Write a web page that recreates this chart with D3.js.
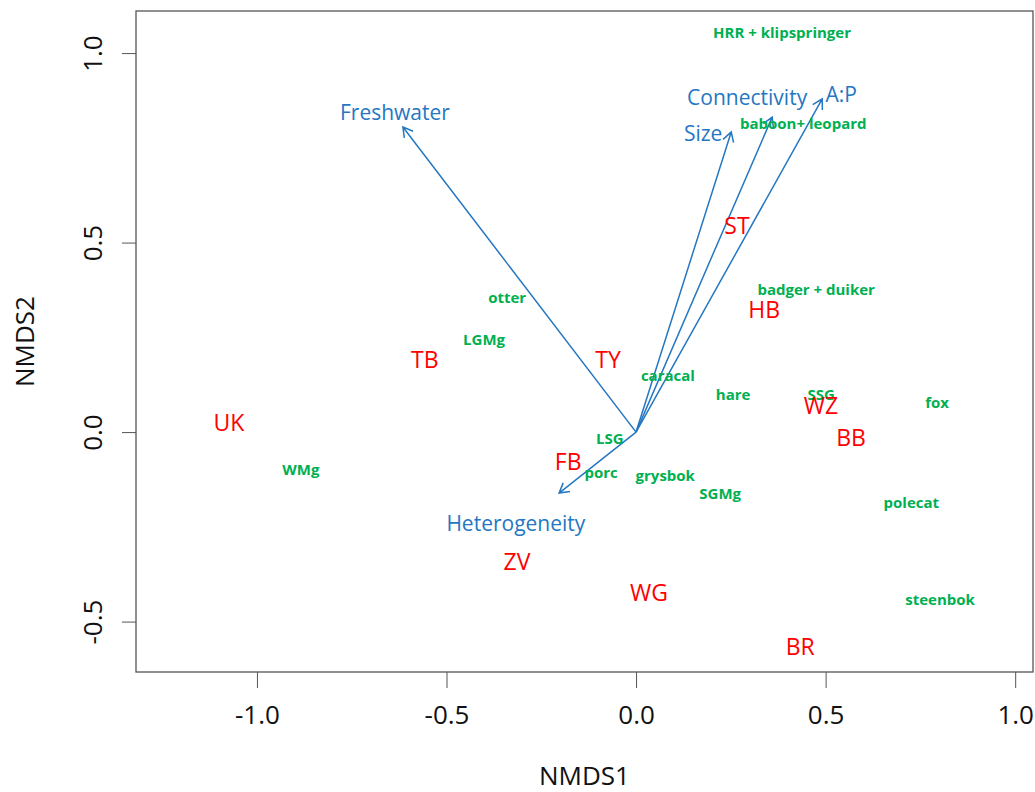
<!DOCTYPE html>
<html>
<head>
<meta charset="utf-8">
<script src="https://cdn.jsdelivr.net/npm/d3@7"></script>
<style>
  body { margin: 0; background: #fff; }
  text { font-family: "Open Sans", Lato, sans-serif; }
</style>
</head>
<body>
<svg width="1035" height="792"></svg>
<script>
// sites (red)
var siteNames = ["UK", "TB", "TY", "ST", "HB", "WZ", "BB", "FB", "ZV", "WG", "BR"];
var siteX = [-1.074, -0.557, -0.074, 0.266, 0.338, 0.488, 0.567, -0.179, -0.314, 0.034, 0.433];
var siteY = [0.026, 0.190, 0.190, 0.544, 0.322, 0.069, -0.016, -0.077, -0.343, -0.425, -0.565];

// species (green)
var speciesNames = ["HRR + klipspringer", "baboon+ leopard", "badger + duiker", "otter", "LGMg", "caracal",
    "hare", "SSG", "fox", "LSG", "porc", "grysbok", "SGMg", "WMg", "polecat", "steenbok"];
var speciesX = [0.385, 0.441, 0.475, -0.340, -0.401, 0.084, 0.256, 0.488, 0.794, -0.069, -0.092, 0.077, 0.222, -0.884, 0.726, 0.802];
var speciesY = [1.055, 0.815, 0.377, 0.354, 0.245, 0.150, 0.100, 0.098, 0.079, -0.018, -0.106, -0.116, -0.161, -0.098, -0.185, -0.441];

// environmental vectors (blue)
var envNames = ["Freshwater", "Size", "Connectivity", "A:P", "Heterogeneity"];
var envX = [-0.615, 0.251, 0.359, 0.491, -0.203];
var envY = [0.805, 0.792, 0.831, 0.879, -0.161];
var envLabelX = [-0.636, 0.177, 0.293, 0.541, -0.317];
var envLabelY = [0.844, 0.789, 0.884, 0.892, -0.240];

// axis ticks
var xTicks = [-1.0, -0.5, 0.0, 0.5, 1.0];
var yTicks = [-0.5, 0.0, 0.5, 1.0];

var svg = d3.select("svg"),
    width = +svg.attr("width"),
    height = +svg.attr("height");

var plotLeft = 136, plotRight = 1033, plotTop = 11, plotBottom = 672;

var x = d3.scaleLinear().domain([-1.319, 1.047]).range([plotLeft, plotRight]);
var y = d3.scaleLinear().domain([-0.633, 1.111]).range([plotBottom, plotTop]);

var red = "#ff0000", green = "#00b050", blue = "#2577c2", axisCol = "#555";

// R prints a plain hyphen, not the unicode minus
var fmt = function (d) { return d3.format(".1f")(d).replace("\u2212", "-"); };

// box
svg.append("rect")
    .attr("x", plotLeft).attr("y", plotTop)
    .attr("width", plotRight - plotLeft).attr("height", plotBottom - plotTop)
    .attr("fill", "none").attr("stroke", axisCol).attr("stroke-width", 1.3);

// x axis
var gx = svg.append("g")
    .attr("transform", "translate(0," + plotBottom + ")")
    .call(d3.axisBottom(x).tickValues(xTicks).tickFormat(fmt).tickSize(16));
gx.select(".domain").remove();
gx.selectAll("line").attr("stroke", axisCol);
gx.selectAll("text")
    .attr("y", 43).attr("dy", "0.36em")
    .attr("fill", "#111")
    .style("font-size", "26px");

// y axis, labels rotated like base R
var gy = svg.append("g")
    .attr("transform", "translate(" + plotLeft + ",0)")
    .call(d3.axisLeft(y).tickValues(yTicks).tickFormat(fmt).tickSize(14));
gy.select(".domain").remove();
gy.selectAll("line").attr("stroke", axisCol);
gy.selectAll("text")
    .attr("x", null).attr("y", null).attr("dy", "0.36em")
    .attr("text-anchor", "middle")
    .attr("transform", "translate(-43,0) rotate(-90)")
    .attr("fill", "#111")
    .style("font-size", "26px");

// axis titles
svg.append("text")
    .attr("x", (plotLeft + plotRight) / 2).attr("y", 776).attr("dy", "0.36em")
    .attr("text-anchor", "middle")
    .style("font-size", "26px").attr("fill", "#111")
    .text("NMDS1");
svg.append("text")
    .attr("transform", "translate(25," + (plotTop + plotBottom) / 2 + ") rotate(-90)")
    .attr("dy", "0.36em")
    .attr("text-anchor", "middle")
    .style("font-size", "26px").attr("fill", "#111")
    .text("NMDS2");

// env arrows
var arrows = svg.append("g");
envNames.forEach(function (name, i) {
    var x0 = x(0), y0 = y(0), x1 = x(envX[i]), y1 = y(envY[i]);
    var ang = Math.atan2(y1 - y0, x1 - x0), len = 11, spread = Math.PI / 6;
    var p = d3.path();
    p.moveTo(x0, y0);
    p.lineTo(x1, y1);
    p.moveTo(x1 - len * Math.cos(ang - spread), y1 - len * Math.sin(ang - spread));
    p.lineTo(x1, y1);
    p.lineTo(x1 - len * Math.cos(ang + spread), y1 - len * Math.sin(ang + spread));
    arrows.append("path")
        .attr("d", p.toString())
        .attr("fill", "none")
        .attr("stroke", blue)
        .attr("stroke-width", 1.5);
    arrows.append("text")
        .attr("x", x(envLabelX[i])).attr("y", y(envLabelY[i])).attr("dy", "0.36em")
        .attr("text-anchor", "middle")
        .attr("fill", blue)
        .style("font-size", "21px")
        .text(name);
});

// species labels
svg.append("g").selectAll("text")
    .data(speciesNames)
    .enter()
    .append("text")
    .attr("x", function (d, i) { return x(speciesX[i]); })
    .attr("y", function (d, i) { return y(speciesY[i]); })
    .attr("dy", "0.36em")
    .attr("text-anchor", "middle")
    .attr("fill", green)
    .style("font-size", "15px")
    .style("font-weight", "bold")
    .text(function (d) { return d; });

// site labels
svg.append("g").selectAll("text")
    .data(siteNames)
    .enter()
    .append("text")
    .attr("x", function (d, i) { return x(siteX[i]); })
    .attr("y", function (d, i) { return y(siteY[i]); })
    .attr("dy", "0.36em")
    .attr("text-anchor", "middle")
    .attr("fill", red)
    .style("font-size", "23px")
    .text(function (d) { return d; });
</script>
</body>
</html>
